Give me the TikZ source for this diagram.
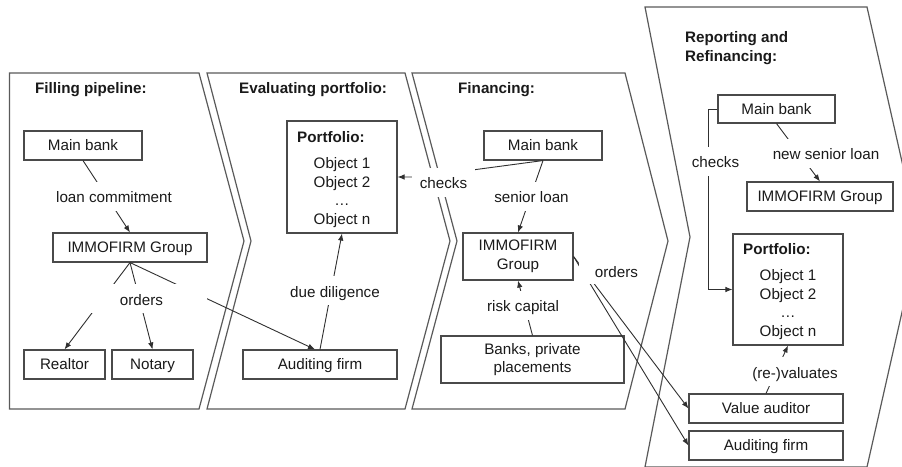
\documentclass[tikz,border=0pt]{standalone}
\usepackage{fontspec}
\setmainfont{Liberation Sans}
\usetikzlibrary{arrows.meta}
\definecolor{panelc}{HTML}{5A5A5A}
\definecolor{boxc}{HTML}{4A4A4A}
\definecolor{linec}{HTML}{303030}
\definecolor{txtc}{HTML}{1A1A1A}
\begin{document}
\begin{tikzpicture}[x=1pt,y=-1pt, font=\fontsize{15.2}{18.5}\selectfont, text=txtc,
  box/.style={draw=boxc, line width=1.1pt, fill=white, inner sep=0pt, minimum height=29pt, text height=10.9pt, text depth=0pt},
  mbox/.style={draw=boxc, line width=1.1pt, fill=white, inner sep=0pt, align=center},
  lbl/.style={fill=white, inner xsep=8pt, inner ysep=0pt, minimum height=29pt, text height=13pt, text depth=0pt},
  conn/.style={draw=linec, line width=0.9pt},
  arr/.style={conn, -{Latex[length=7pt,width=5.5pt]}},
  panel/.style={draw=panelc, line width=1.2pt, line join=miter},
  ttl/.style={font=\fontsize{15.2}{18.3}\selectfont\bfseries, anchor=west, inner sep=0pt, text height=10.9pt, text depth=0pt},
  ttlm/.style={font=\fontsize{15.2}{18.3}\selectfont\bfseries, anchor=north west, inner sep=0pt, align=left},
  objs/.style={inner sep=0pt, align=center},
]
\clip (0,0) rectangle (902,466);
\fill[white] (0,0) rectangle (902,466);

% panels
\draw[panel] (9.5,73) -- (199,73) -- (244,241) -- (199,409) -- (9.5,409) -- cycle;
\draw[panel] (207,73) -- (405,73) -- (450,241) -- (405,409) -- (207,409) -- (251,241) -- cycle;
\draw[panel] (412,73) -- (625,73) -- (668,241) -- (625,409) -- (412,409) -- (457,241) -- cycle;
\draw[panel] (645,7) -- (867,7) -- (919,237) -- (867,467) -- (645,467) -- (690,237) -- cycle;

% titles
\node[ttl] (t1) at (35,88) {Filling pipeline:};
\node[ttl] (t2) at (239,88) {Evaluating portfolio:};
\node[ttl] (t3) at (458,88) {Financing:};
\node[ttlm] (t4) at (685,31.5) {Reporting and\\Refinancing:};

% panel 1 boxes
\node[box, minimum width=118pt] (mb1) at (83,145.5) {Main bank};
\node[box, minimum width=154pt] (ig1) at (130,247.5) {IMMOFIRM Group};
\node[box, minimum width=81pt] (rl) at (64.5,364.5) {Realtor};
\node[box, minimum width=81pt] (nt) at (152.5,364.5) {Notary};

% panel 2 boxes
\node[box, minimum width=154pt] (af1) at (320,364.5) {Auditing firm};
\node[draw=boxc, line width=1.1pt, fill=white, minimum width=110pt, minimum height=112pt, inner sep=0pt] (pf2) at (342,177) {};
\node[ttl] (pf2t) at (297,137) {Portfolio:};
\node[objs] (pf2o) at (342,192.4) {Object 1\\Object 2\\…\\Object n};

% panel 3 boxes
\node[box, minimum width=118pt] (fmb) at (543,145.5) {Main bank};
\node[mbox, minimum width=110pt, minimum height=47pt] (fig) at (518,256.5) {IMMOFIRM\\Group};
\node[mbox, minimum width=183pt, minimum height=47pt] (bk) at (532.5,359.5) {Banks, private\\placements};

% panel 4 boxes
\node[box, minimum width=117pt, minimum height=28pt] (mb4) at (776.5,109) {Main bank};
\node[box, minimum width=146pt] (ig4) at (820,196.5) {IMMOFIRM Group};
\node[draw=boxc, line width=1.1pt, fill=white, minimum width=110pt, minimum height=111pt, inner sep=0pt] (pf4) at (788,289.5) {};
\node[ttl] (pf4t) at (743,249.5) {Portfolio:};
\node[objs] (pf4o) at (788,304.4) {Object 1\\Object 2\\…\\Object n};
\node[box, minimum width=154pt] (va) at (766,408.5) {Value auditor};
\node[box, minimum width=154pt] (af2) at (766,445.5) {Auditing firm};

% connectors
\coordinate (chkb) at (420,177);
\coordinate (bend4) at (708,109);
\draw[arr] (mb1.south) -- (ig1.north);
\draw[arr] (ig1.south) -- (rl.north);
\draw[arr] (ig1.south) -- (nt.north);
\draw[arr] (ig1.south) -- ([xshift=-5pt]af1.north);
\draw[arr] (af1.north) -- (pf2.south);
\draw[arr] (fmb.south) -- (chkb) -- (pf2.east |- chkb);
\draw[arr] (fmb.south) -- (fig.north);
\draw[arr] (bk.north) -- (fig.south);
\draw[arr] (fig.east) -- (va.west);
\draw[arr] (fig.east) -- (af2.west);
\draw[arr] (mb4.south) -- (ig4.north);
\draw[arr] (mb4.west) -- (bend4) |- (pf4.west);
\draw[arr] (va.north) -- (pf4.south);

% labels
\node[lbl] (lc) at (114,196) {loan commitment};
\node[lbl, minimum width=119pt] (ord1) at (147.5,298.5) {orders\hspace*{12pt}};
\node[lbl] (dd) at (335,290.5) {due diligence};
\node[lbl, minimum width=63pt] (chk3) at (443.5,182) {checks};
\node[lbl] (sl) at (531.5,196) {senior loan};
\node[lbl] (rc) at (523,305) {risk capital};
\node[lbl, minimum width=75pt, minimum height=26pt] (ord3) at (616.5,271) {orders};
\node[lbl] (nsl) at (826,153) {new senior loan};
\node[lbl] (chk4) at (715.5,161) {checks};
\node[lbl] (rv) at (795,371.5) {(re-)valuates};
\end{tikzpicture}
\end{document}
